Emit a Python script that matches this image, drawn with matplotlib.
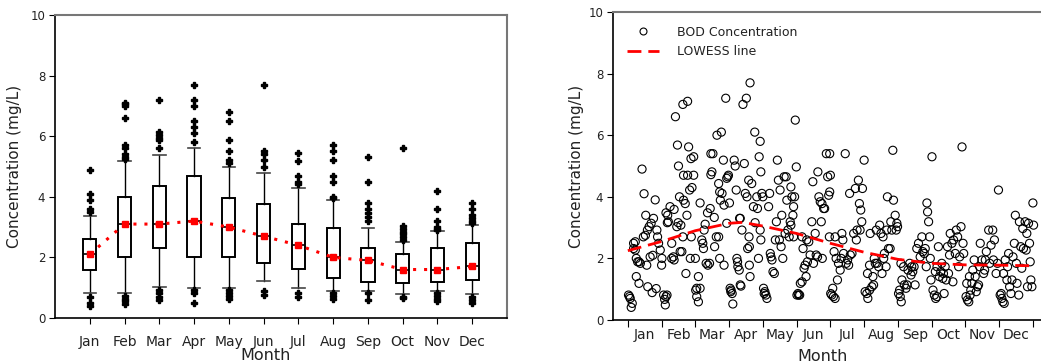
import numpy as np
import matplotlib
matplotlib.use('Agg')
import matplotlib.pyplot as plt
from matplotlib.lines import Line2D

plt.rcParams['font.family'] = 'DejaVu Sans'
plt.rcParams['text.color'] = '#222222'
plt.rcParams['xtick.labelcolor'] = '#222222'
plt.rcParams['ytick.labelcolor'] = '#222222'
plt.rcParams['axes.labelcolor'] = '#222222'

months = ['Jan', 'Feb', 'Mar', 'Apr', 'May', 'Jun',
          'Jul', 'Aug', 'Sep', 'Oct', 'Nov', 'Dec']

# box plot summary per month
q1 = [1.6, 2.0, 2.32, 2.0, 2.01, 1.82, 1.61, 1.31, 1.19, 1.14, 1.19, 1.24]
q3 = [2.6, 4.0, 4.35, 4.7, 3.97, 3.77, 3.09, 2.98, 2.3, 2.1, 2.3, 2.48]
medians = [2.1, 3.1, 3.1, 3.2, 3.0, 2.7, 2.4, 2.0, 1.9, 1.6, 1.6, 1.7]
whisk_lo = [0.81, 0.81, 1.01, 1.0, 1.0, 1.21, 1.0, 0.9, 0.9, 0.8, 0.9, 0.8]
whisk_hi = [3.38, 5.18, 5.39, 5.6, 4.98, 4.79, 4.3, 3.89, 2.98, 2.5, 2.88, 3.08]
outliers = [
    [4.9, 4.1, 3.9, 3.6, 3.5, 0.7, 0.5, 0.4],
    [7.1, 7.05, 7.0, 6.6, 5.7, 5.6, 5.4, 5.3, 5.25, 0.73, 0.64, 0.55, 0.46],
    [7.2, 6.13, 6.04, 5.95, 5.86, 5.6, 0.92, 0.81, 0.7, 0.59],
    [7.7, 7.2, 7.0, 6.5, 6.3, 6.1, 5.8, 0.92, 0.81, 0.5],
    [6.8, 6.5, 5.86, 5.5, 5.2, 5.1, 0.92, 0.81, 0.73, 0.64],
    [7.7, 5.5, 5.41, 5.2, 5.0, 0.9, 0.77],
    [5.43, 5.19, 4.7, 4.5, 4.41, 0.81, 0.7],
    [5.7, 5.5, 5.2, 4.7, 4.5, 4.0, 3.95, 0.81, 0.73, 0.64],
    [5.3, 4.5, 3.8, 3.6, 3.48, 3.33, 3.2, 0.81, 0.59],
    [5.6, 3.02, 2.94, 2.85, 2.76, 2.67, 2.58, 0.69, 0.65],
    [4.2, 3.6, 3.2, 2.99, 2.94, 2.9, 0.81, 0.73, 0.64, 0.55],
    [3.8, 3.6, 3.4, 3.3, 3.2, 3.12, 0.69, 0.59, 0.49],
]

# BOD concentration points (decimal month, mg/L) for the right panel
jan_pts = [(0.02, 0.81), (0.07, 0.70), (0.10, 0.41), (0.13, 0.54), (0.05, 0.76),
           (0.17, 2.49), (0.22, 2.54), (0.17, 2.32), (0.22, 2.27), (0.25, 2.0),
           (0.29, 1.89), (0.33, 1.89), (0.37, 1.84), (0.25, 1.41), (0.33, 1.19),
           (0.42, 4.9), (0.48, 4.1), (0.53, 3.4), (0.46, 2.7), (0.52, 2.75),
           (0.58, 2.92), (0.63, 3.03), (0.69, 3.14), (0.76, 3.3), (0.81, 3.9),
           (0.59, 1.08), (0.72, 0.89), (0.66, 2.05), (0.74, 2.1), (0.56, 1.78),
           (0.86, 2.92), (0.88, 2.7), (0.91, 2.49), (0.96, 2.27), (1.00, 1.78),
           (0.84, 1.02), (1.01, 2.0)]
feb_pts = [(1.06, 0.81), (1.09, 0.67), (1.11, 0.49), (1.13, 0.76), (1.16, 0.81),
           (1.13, 3.48), (1.18, 3.4), (1.20, 3.19), (1.17, 3.16), (1.25, 3.68),
           (1.30, 2.49), (1.30, 2.0), (1.37, 3.59), (1.41, 6.6), (1.47, 5.68),
           (1.50, 5.0), (1.53, 4.0), (1.49, 3.16), (1.45, 3.03), (1.37, 1.95),
           (1.35, 2.05), (1.63, 7.0), (1.77, 7.1), (1.65, 4.7), (1.77, 4.7),
           (1.80, 5.62), (1.87, 5.24), (1.95, 5.3), (1.90, 4.3), (1.83, 4.22),
           (1.65, 3.89), (1.70, 3.78), (1.75, 3.4), (1.55, 2.22), (1.60, 2.22),
           (1.63, 2.7), (1.72, 1.51), (1.85, 2.0), (1.95, 4.7), (1.88, 2.7),
           (2.00, 2.0), (1.57, 3.08)]
mar_pts = [(2.09, 1.41), (2.01, 0.97), (2.04, 0.76), (2.09, 0.59), (2.14, 1.03),
           (2.04, 1.03), (2.14, 3.8), (2.19, 2.6), (2.22, 2.49), (2.24, 2.32),
           (2.26, 2.92), (2.29, 3.11), (2.32, 1.84), (2.37, 1.78), (2.42, 1.84),
           (2.36, 3.48), (2.44, 3.62), (2.46, 5.4), (2.52, 5.4), (2.49, 4.81),
           (2.46, 4.72), (2.56, 3.33), (2.57, 2.38), (2.62, 2.7), (2.69, 2.7),
           (2.64, 6.0), (2.72, 2.0), (2.77, 6.1), (2.69, 4.43), (2.72, 4.16),
           (2.74, 3.89), (2.79, 4.11), (2.83, 5.19), (2.85, 3.73), (2.85, 1.78),
           (2.90, 7.2), (2.93, 4.6), (2.96, 4.65), (2.98, 4.7), (3.01, 3.8),
           (2.93, 3.14)]
apr_pts = [(3.03, 1.03), (3.06, 0.97), (3.09, 0.86), (3.11, 0.52), (3.05, 0.92),
           (3.15, 5.19), (3.18, 5.0), (3.21, 4.22), (3.23, 2.0), (3.26, 1.73),
           (3.30, 1.62), (3.33, 1.14), (3.35, 1.1), (3.25, 1.89), (3.31, 3.3),
           (3.33, 3.3), (3.38, 2.92), (3.41, 7.0), (3.45, 5.08), (3.48, 4.11),
           (3.51, 7.2), (3.53, 4.0), (3.55, 2.32), (3.58, 4.54), (3.62, 7.7),
           (3.60, 2.38), (3.59, 2.7), (3.60, 1.78), (3.62, 1.41), (3.67, 4.43),
           (3.72, 3.68), (3.76, 6.1), (3.77, 3.16), (3.82, 4.0), (3.84, 3.62),
           (3.87, 2.0), (3.89, 5.3), (3.92, 5.8), (3.94, 4.81), (3.92, 2.92),
           (3.94, 2.6), (3.97, 4.11), (4.00, 4.0)]
may_pts = [(4.02, 1.03), (4.06, 0.92), (4.09, 0.81), (4.12, 0.7), (4.04, 0.86),
           (4.17, 3.68), (4.20, 4.11), (4.22, 2.16), (4.24, 2.05), (4.27, 1.95),
           (4.30, 1.57), (4.34, 1.51), (4.37, 2.6), (4.40, 3.19), (4.43, 5.19),
           (4.46, 4.54), (4.49, 2.6), (4.51, 4.22), (4.54, 2.38), (4.59, 2.0),
           (4.56, 3.4), (4.63, 4.65), (4.69, 4.65), (4.66, 2.81), (4.71, 3.89),
           (4.74, 2.92), (4.78, 2.7), (4.81, 3.19), (4.83, 4.32), (4.86, 4.0),
           (4.89, 3.4), (4.91, 3.68), (4.94, 4.0), (4.96, 6.49), (4.99, 4.97),
           (4.91, 2.7), (4.83, 3.08)]
jun_pts = [(5.01, 0.81), (5.06, 0.81), (5.09, 0.81), (5.04, 0.86), (5.11, 1.19),
           (5.16, 1.24), (5.19, 2.32), (5.16, 2.7), (5.22, 1.68), (5.25, 1.78),
           (5.28, 1.41), (5.32, 1.89), (5.30, 2.6), (5.36, 2.54), (5.40, 2.11),
           (5.45, 3.19), (5.48, 4.49), (5.50, 1.84), (5.55, 2.81), (5.58, 2.11),
           (5.62, 2.05), (5.63, 4.81), (5.66, 4.0), (5.70, 3.84), (5.73, 3.19),
           (5.76, 2.0), (5.75, 3.78), (5.80, 3.62), (5.83, 3.62), (5.88, 5.4),
           (5.98, 5.4), (5.92, 4.65), (6.00, 4.7), (5.95, 4.05), (5.98, 4.16),
           (5.97, 2.7)]
jul_pts = [(6.04, 0.81), (6.09, 0.76), (6.14, 0.7), (6.01, 0.86), (6.07, 1.03),
           (6.14, 2.7), (6.11, 2.22), (6.17, 2.0), (6.21, 1.3), (6.24, 1.84),
           (6.29, 1.62), (6.34, 2.81), (6.37, 2.6), (6.39, 2.16), (6.32, 2.0),
           (6.44, 5.4), (6.47, 1.84), (6.51, 1.95), (6.54, 1.78), (6.57, 4.11),
           (6.59, 2.11), (6.64, 2.16), (6.69, 2.81), (6.74, 4.27), (6.77, 2.6),
           (6.79, 2.92), (6.83, 4.54), (6.86, 3.78), (6.90, 3.57), (6.93, 3.19),
           (6.95, 4.27), (7.00, 5.19), (6.88, 2.92)]
aug_pts = [(7.03, 0.92), (7.08, 0.86), (7.11, 0.7), (7.16, 0.97), (7.23, 1.08),
           (7.28, 1.14), (7.10, 1.51), (7.16, 1.78), (7.18, 2.81), (7.26, 1.41),
           (7.30, 2.0), (7.33, 1.84), (7.36, 2.92), (7.38, 1.84), (7.43, 1.73),
           (7.46, 3.08), (7.50, 2.81), (7.53, 1.51), (7.56, 2.7), (7.58, 2.0),
           (7.60, 2.16), (7.65, 1.73), (7.67, 2.92), (7.69, 4.0), (7.72, 2.32),
           (7.77, 2.32), (7.79, 3.19), (7.82, 2.92), (7.85, 5.51), (7.87, 3.89),
           (7.92, 3.4), (7.95, 2.92), (7.97, 3.14), (7.99, 3.03)]
sep_pts = [(8.02, 0.86), (8.07, 0.76), (8.10, 0.59), (8.05, 0.97), (8.09, 1.84),
           (8.12, 1.3), (8.17, 1.73), (8.19, 1.14), (8.24, 1.03), (8.27, 1.14),
           (8.30, 1.62), (8.35, 1.84), (8.39, 1.46), (8.41, 1.73), (8.44, 1.57),
           (8.48, 1.73), (8.51, 1.14), (8.56, 2.32), (8.61, 2.49), (8.66, 2.05),
           (8.71, 2.7), (8.74, 2.22), (8.78, 2.16), (8.81, 2.32), (8.84, 1.73),
           (8.86, 3.8), (8.88, 3.51), (8.91, 3.19), (8.94, 2.7), (8.98, 1.3),
           (9.01, 5.3), (8.96, 2.0)]
oct_pts = [(9.04, 0.97), (9.08, 0.81), (9.12, 0.7), (9.16, 0.76), (9.11, 1.57),
           (9.16, 1.73), (9.20, 2.38), (9.23, 1.41), (9.27, 1.57), (9.30, 1.84),
           (9.33, 1.35), (9.35, 1.51), (9.37, 0.86), (9.40, 1.73), (9.43, 1.3),
           (9.47, 2.38), (9.50, 1.51), (9.53, 2.11), (9.55, 2.81), (9.60, 2.49),
           (9.63, 1.24), (9.65, 2.6), (9.70, 2.16), (9.73, 2.92), (9.77, 2.7),
           (9.83, 2.05), (9.87, 3.03), (9.90, 5.62), (9.93, 2.49), (9.95, 2.16),
           (9.80, 1.73)]
nov_pts = [(10.02, 0.76), (10.06, 0.65), (10.10, 0.59), (10.14, 0.81),
           (10.04, 1.19), (10.12, 1.41), (10.16, 0.97), (10.19, 1.19),
           (10.22, 1.62), (10.26, 1.95), (10.29, 1.41), (10.32, 0.92),
           (10.36, 1.08), (10.39, 1.14), (10.42, 1.73), (10.44, 2.49),
           (10.49, 1.95), (10.54, 1.51), (10.57, 1.62), (10.59, 1.95),
           (10.62, 2.22), (10.69, 2.92), (10.72, 1.84), (10.76, 2.43),
           (10.81, 2.92), (10.83, 1.95), (10.86, 2.6), (10.91, 1.51),
           (10.95, 1.84), (10.98, 4.22)]
dec_pts = [(11.03, 0.81), (11.08, 0.7), (11.11, 0.59), (11.15, 0.54),
           (11.06, 0.86), (11.13, 1.51), (11.18, 1.95), (11.23, 1.3),
           (11.25, 1.73), (11.28, 2.16), (11.31, 1.08), (11.35, 0.86),
           (11.38, 1.3), (11.41, 2.05), (11.45, 2.49), (11.48, 3.4),
           (11.51, 1.84), (11.53, 1.19), (11.58, 0.81), (11.60, 3.19),
           (11.64, 2.38), (11.67, 1.68), (11.70, 2.97), (11.72, 2.32),
           (11.77, 3.19), (11.80, 2.27), (11.82, 2.81), (11.84, 1.08),
           (11.87, 3.14), (11.90, 2.49), (11.92, 1.89), (11.94, 1.3),
           (11.97, 1.08), (12.00, 3.8), (12.02, 3.08)]

# LOWESS curve
lowess_x = [0.0, 1.0, 2.0, 3.0, 3.4, 4.0, 5.0, 6.0, 7.0, 8.0, 9.0, 10.0, 11.0, 12.0]
lowess_y = [2.25, 2.55, 2.9, 3.14, 3.17, 3.05, 2.81, 2.49, 2.2, 1.97, 1.84, 1.79, 1.78, 1.76]

all_pts = (jan_pts + feb_pts + mar_pts + apr_pts + may_pts + jun_pts +
           jul_pts + aug_pts + sep_pts + oct_pts + nov_pts + dec_pts)
pt_x = [p[0] for p in all_pts]
pt_y = [p[1] for p in all_pts]

fig = plt.figure(figsize=(10.41, 3.63), dpi=100)
ax1 = fig.add_axes([55 / 1041, 45 / 363, 452 / 1041, 303 / 363])
ax2 = fig.add_axes([613 / 1041, 43 / 363, 428 / 1041, 308 / 363])

# ---- left: box plots
stats = []
for i in range(12):
    stats.append(dict(med=medians[i], q1=q1[i], q3=q3[i],
                      whislo=whisk_lo[i], whishi=whisk_hi[i],
                      fliers=outliers[i]))
pos = np.arange(1, 13)
ax1.bxp(stats, positions=pos, widths=0.38, patch_artist=True,
        boxprops=dict(facecolor='white', edgecolor='black', linewidth=1.4),
        medianprops=dict(color='black', linewidth=1.2),
        whiskerprops=dict(color='black', linewidth=1.0),
        capprops=dict(color='#444444', linewidth=1.2),
        capwidths=0.36,
        flierprops=dict(marker='P', markerfacecolor='black',
                        markeredgecolor='black', markersize=4.5))
ax1.plot(pos, medians, color='red', linestyle=(0, (1, 2.6)), linewidth=2.2,
         zorder=4)
ax1.plot(pos, medians, 's', color='red', markersize=4.5, zorder=5)

ax1.set_xlim(0, 13)
ax1.set_ylim(0, 10)
ax1.set_xticks(pos)
ax1.set_xticklabels(months, fontsize=10)
ax1.set_yticks([0, 2, 4, 6, 8, 10])
ax1.tick_params(axis='x', direction='out', length=4, pad=8)
ax1.tick_params(axis='y', direction='out', length=4, pad=3, labelsize=8.5)
for s in ['top', 'right']:
    ax1.spines[s].set_color('#777777')
    ax1.spines[s].set_linewidth(1.5)
for s in ['left', 'bottom']:
    ax1.spines[s].set_linewidth(1.2)
ax1.set_ylabel('Concentration (mg/L)', fontsize=11)
ax1.yaxis.set_label_coords(-0.072, 0.5)
ax1.set_xlabel('Month', fontsize=11.5)
ax1.xaxis.set_label_coords(0.465, -0.1)

# ---- right: scatter + LOWESS
ax2.scatter(pt_x, pt_y, s=34, facecolors='none', edgecolors='black',
            linewidths=0.8, zorder=3)
ax2.plot(lowess_x, lowess_y, color='red', linestyle=(0, (5, 2.5)),
         linewidth=2.0, zorder=4)
ax2.set_xlim(-0.44, 12.24)
ax2.set_ylim(0, 10)
ax2.set_xticks(np.arange(0, 13))
ax2.set_xticklabels([])
ax2.set_xticks(np.arange(12) + 0.5, minor=True)
ax2.set_xticklabels(months, minor=True, fontsize=10)
ax2.tick_params(axis='x', which='major', direction='out', length=5)
ax2.tick_params(axis='x', which='minor', length=0, pad=6)
ax2.set_yticks([0, 2, 4, 6, 8, 10])
ax2.tick_params(axis='y', direction='out', length=4, pad=3, labelsize=8.5)
ax2.spines['right'].set_visible(False)
ax2.spines['top'].set_color('#777777')
ax2.spines['top'].set_linewidth(1.5)
for s in ['left', 'bottom']:
    ax2.spines[s].set_linewidth(1.2)
ax2.set_ylabel('Concentration (mg/L)', fontsize=11)
ax2.yaxis.set_label_coords(-0.068, 0.5)
ax2.set_xlabel('Month', fontsize=11.5)
ax2.xaxis.set_label_coords(0.49, -0.095)

handles = [
    Line2D([], [], linestyle='none', marker='o', markersize=5,
           markerfacecolor='none', markeredgecolor='black', markeredgewidth=0.8),
    Line2D([], [], color='red', linestyle=(0, (5, 2.5)), linewidth=2.0),
]
ax2.legend(handles, ['BOD Concentration', 'LOWESS line'], loc='upper left',
           frameon=False, fontsize=9, handlelength=2.6, handletextpad=1.4,
           bbox_to_anchor=(0.0, 1.0), borderaxespad=0.7, labelspacing=0.5)

fig.savefig('out.png', dpi=100)
